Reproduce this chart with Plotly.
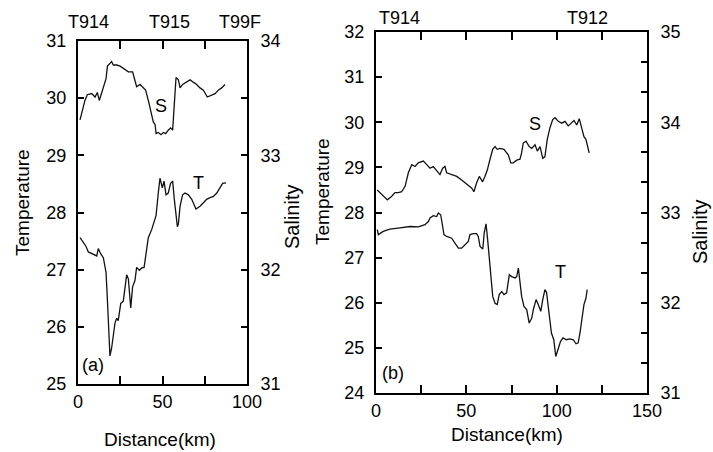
import plotly.graph_objects as go

# ---------------- Panel (a) data ----------------
a_S_km = [1.2, 4.1, 5.5, 8.1, 10.1, 11.4, 12.6, 14.0, 15.4, 16.6, 17.4, 18.9, 19.9, 20.9, 22.9, 24.9,
          27.8, 29.8, 32.3, 33.7, 34.7, 36.7, 38.7, 40.0, 41.6, 43.0, 44.6, 45.6, 46.2, 47.5, 49.1,
          50.5, 51.9, 53.4, 54.8, 56.0, 56.8, 58.0, 59.4, 60.4, 61.9, 64.3, 66.3, 68.2, 70.2, 72.2,
          74.2, 76.5, 79.1, 81.1, 83.0, 85.0, 87.0]
a_S_sal = [33.31, 33.48, 33.53, 33.54, 33.51, 33.55, 33.48, 33.54, 33.60, 33.67, 33.78, 33.81, 33.82,
           33.79, 33.79, 33.78, 33.75, 33.73, 33.73, 33.66, 33.60, 33.62, 33.59, 33.57, 33.48, 33.40,
           33.29, 33.27, 33.19, 33.20, 33.18, 33.20, 33.19, 33.22, 33.24, 33.22, 33.45, 33.68, 33.66,
           33.59, 33.62, 33.64, 33.66, 33.64, 33.62, 33.59, 33.57, 33.51, 33.53, 33.54, 33.57, 33.59,
           33.62]

a_T_km = [1.2, 2.8, 4.7, 6.1, 8.1, 10.1, 11.1, 12.0, 13.4, 15.0, 16.6, 17.4, 18.2, 18.9, 19.9, 20.9,
          21.9, 22.9, 23.8, 25.3, 26.8, 28.8, 29.8, 31.2, 32.3, 33.7, 34.7, 36.3, 37.7, 39.1, 40.2,
          41.6, 43.6, 45.0, 46.2, 47.5, 48.5, 49.9, 50.9, 52.1, 53.4, 54.8, 56.0, 57.0, 58.0, 58.8,
          59.4, 60.4, 61.9, 63.3, 65.3, 67.3, 69.8, 72.2, 74.2, 76.1, 78.1, 80.1, 82.1, 84.0, 85.6,
          87.6]
a_T_temp = [27.56, 27.48, 27.41, 27.31, 27.28, 27.26, 27.24, 27.37, 27.28, 27.21, 26.95, 26.47, 25.94,
            25.49, 25.63, 25.83, 26.07, 26.15, 26.11, 26.41, 26.45, 26.91, 26.84, 26.33, 26.70, 26.81,
            27.04, 26.99, 27.03, 27.04, 27.31, 27.56, 27.70, 27.85, 27.95, 28.34, 28.60, 28.43, 28.55,
            28.31, 28.34, 28.51, 28.55, 28.23, 28.00, 27.75, 27.80, 28.11, 28.31, 28.34, 28.31, 28.23,
            28.06, 28.11, 28.17, 28.23, 28.26, 28.28, 28.34, 28.43, 28.51, 28.52]

# ---------------- Panel (b) data ----------------
b_S_km = [0.7, 3.1, 6.3, 8.7, 10.5, 12.4, 14.2, 16.1, 17.9, 19.8, 21.6, 23.4, 26.2, 28.1, 29.9, 31.7,
          33.6, 35.4, 36.9, 38.2, 39.1, 41.9, 44.7, 47.4, 50.2, 53.0, 54.2, 55.7, 57.2, 59.0, 60.3,
          61.6, 63.1, 64.6, 65.9, 67.1, 68.6, 70.8, 73.2, 74.6, 76.0, 77.9, 79.7, 80.6, 81.5, 83.0,
          84.8, 86.2, 88.0, 89.3, 90.8, 92.3, 93.5, 94.8, 96.3, 97.8, 99.1, 100.9, 102.8, 104.6,
          106.4, 108.3, 109.6, 111.1, 112.5, 113.8, 115.1, 116.2, 116.9, 118.0]
b_S_sal = [33.25, 33.20, 33.14, 33.18, 33.22, 33.22, 33.23, 33.29, 33.44, 33.53, 33.51, 33.55, 33.57,
           33.53, 33.49, 33.51, 33.47, 33.42, 33.49, 33.51, 33.44, 33.42, 33.40, 33.36, 33.31, 33.27,
           33.23, 33.33, 33.40, 33.34, 33.40, 33.47, 33.59, 33.70, 33.73, 33.70, 33.71, 33.70, 33.64,
           33.55, 33.55, 33.58, 33.59, 33.66, 33.77, 33.79, 33.73, 33.71, 33.75, 33.68, 33.73, 33.60,
           33.62, 33.81, 33.94, 34.03, 34.05, 34.01, 33.99, 34.01, 33.96, 33.99, 34.02, 33.97, 34.04,
           33.94, 33.84, 33.81, 33.75, 33.66]

b_T_km = [0.7, 1.3, 4.0, 7.7, 13.3, 18.8, 23.4, 27.1, 29.0, 29.9, 31.7, 33.6, 34.5, 35.8, 36.9, 37.6,
          39.1, 41.9, 43.7, 45.6, 47.4, 49.2, 51.1, 52.0, 53.9, 55.7, 56.6, 57.6, 59.1, 59.9, 60.9,
          61.8, 63.1, 64.6, 65.9, 67.1, 68.2, 69.6, 70.8, 72.3, 73.8, 75.1, 76.9, 77.9, 78.8, 79.7,
          80.6, 81.9, 83.4, 84.8, 86.2, 87.1, 88.6, 89.8, 91.2, 92.3, 93.5, 94.4, 95.8, 97.1, 98.4,
          99.5, 100.7, 102.1, 103.5, 105.4, 107.2, 109.2, 110.7, 111.9, 112.9, 114.3, 115.1, 116.2,
          116.9]
b_T_temp = [27.62, 27.51, 27.58, 27.63, 27.66, 27.69, 27.68, 27.73, 27.80, 27.88, 27.93, 27.91, 27.99,
            27.95, 27.69, 27.51, 27.47, 27.43, 27.32, 27.21, 27.21, 27.29, 27.36, 27.51, 27.53, 27.53,
            27.47, 27.25, 27.19, 27.55, 27.75, 27.40, 26.88, 26.14, 25.99, 25.96, 26.18, 26.25, 26.18,
            26.22, 26.62, 26.58, 26.55, 26.58, 26.77, 26.44, 26.14, 25.92, 25.85, 25.55, 25.66, 25.85,
            26.07, 25.96, 25.81, 26.07, 26.29, 26.23, 25.77, 25.33, 25.18, 24.81, 24.96, 25.14, 25.22,
            25.18, 25.20, 25.18, 25.09, 25.11, 25.33, 25.77, 25.96, 26.10, 26.29]

# tick labels
a_x_ticks = [0, 25, 50, 75, 100]
a_x_labels = ["0", "", "50", "", "100"]
a_T_ticks = [25, 26, 27, 28, 29, 30, 31]
a_S_ticks = [31, 31.5, 32, 32.5, 33, 33.5, 34]
a_S_labels = ["31", "", "32", "", "33", "", "34"]
b_x_ticks = [0, 25, 50, 75, 100, 125, 150]
b_x_labels = ["0", "", "50", "", "100", "", "150"]
b_T_ticks = [24, 25, 26, 27, 28, 29, 30, 31, 32]
b_S_ticks = [31 + i / 3 for i in range(13)]
b_S_labels = [str(31 + i // 3) if i % 3 == 0 else "" for i in range(13)]

a_top = ["T914", "T915", "T99F"]
a_top_km = [6, 54, 96]
b_top = ["T914", "T912"]
b_top_km = [13, 117]

FONT = "Liberation Sans, Arial, Helvetica, sans-serif"
W, H = 713, 452
line = dict(color="#111111", width=1.3)

fig = go.Figure()
fig.add_trace(go.Scatter(x=a_S_km, y=a_S_sal, xaxis="x", yaxis="y2", mode="lines", line=line))
fig.add_trace(go.Scatter(x=a_T_km, y=a_T_temp, xaxis="x", yaxis="y", mode="lines", line=line))
fig.add_trace(go.Scatter(x=b_S_km, y=b_S_sal, xaxis="x2", yaxis="y4", mode="lines", line=line))
fig.add_trace(go.Scatter(x=b_T_km, y=b_T_temp, xaxis="x2", yaxis="y3", mode="lines", line=line))

def px_x(p):
    return p / W

def px_y(p):
    return 1 - p / H

tickfont = dict(family=FONT, size=18, color="black")
axcommon = dict(showgrid=False, zeroline=False, showline=True, linecolor="black", linewidth=2,
                ticks="inside", tickcolor="black", tickwidth=1.5, tickfont=tickfont,
                automargin=False)

a_xd = [px_x(78), px_x(247)]
a_yd = [px_y(384), px_y(41)]
b_xd = [px_x(376), px_x(647)]
b_yd = [px_y(393), px_y(32)]

fig.update_layout(
    width=W, height=H, margin=dict(l=0, r=0, t=0, b=0, autoexpand=False),
    paper_bgcolor="white", plot_bgcolor="white", showlegend=False,
    font=dict(family=FONT, size=18, color="black"),
    xaxis=dict(axcommon, domain=a_xd, range=[0, 100], anchor="y", tickvals=a_x_ticks,
               ticktext=a_x_labels, ticklen=8, mirror="ticks", ticklabelstandoff=0),
    yaxis=dict(axcommon, domain=a_yd, range=[25, 31], anchor="x", tickvals=a_T_ticks,
               ticklen=6, ticklabelstandoff=6),
    yaxis2=dict(axcommon, domain=a_yd, range=[31, 34], anchor="x", overlaying="y", side="right",
                tickvals=a_S_ticks, ticktext=a_S_labels, ticklen=6, ticklabelstandoff=8),
    xaxis2=dict(axcommon, domain=b_xd, range=[0, 150], anchor="y3", tickvals=b_x_ticks,
                ticktext=b_x_labels, ticklen=8, mirror="ticks", ticklabelstandoff=0),
    yaxis3=dict(axcommon, domain=b_yd, range=[24, 32], anchor="x2", tickvals=b_T_ticks,
                ticklen=6, ticklabelstandoff=6),
    yaxis4=dict(axcommon, domain=b_yd, range=[31, 35], anchor="x2", overlaying="y3", side="right",
                tickvals=b_S_ticks, ticktext=b_S_labels, ticklen=6, ticklabelstandoff=8),
)

ann = []
def add(text, x, y, xref="paper", yref="paper", size=18, angle=0, xanchor="center", yanchor="middle"):
    ann.append(dict(text=text, x=x, y=y, xref=xref, yref=yref, showarrow=False, textangle=angle,
                    font=dict(family=FONT, size=size, color="black"), xanchor=xanchor, yanchor=yanchor))

for t, k in zip(a_top, a_top_km):
    add(t, k, px_y(22), xref="x", size=18)
for t, k in zip(b_top, b_top_km):
    add(t, k, px_y(18), xref="x2", size=18)

add("Temperature", px_x(22), px_y(203), angle=-90, size=19)
add("Temperature", px_x(322), px_y(192), angle=-90, size=19)
add("Salinity", px_x(292), px_y(217), angle=-90, size=20)
add("Salinity", px_x(700), px_y(232), angle=-90, size=20)
add("Distance(km)", px_x(160), px_y(439), size=19)
add("Distance(km)", px_x(507), px_y(434), size=19)

add("S", px_x(161), px_y(106), size=18)
add("T", px_x(198), px_y(183), size=18)
add("(a)", px_x(93), px_y(365), size=18)
add("S", px_x(535), px_y(124), size=18)
add("T", px_x(560), px_y(272), size=18)
add("(b)", px_x(393), px_y(373), size=18)

fig.update_layout(annotations=ann)
fig.write_html(
    "out.html",
    config={"displayModeBar": False},
    post_script="document.body.style.margin='0';document.body.style.overflow='hidden';",
)
